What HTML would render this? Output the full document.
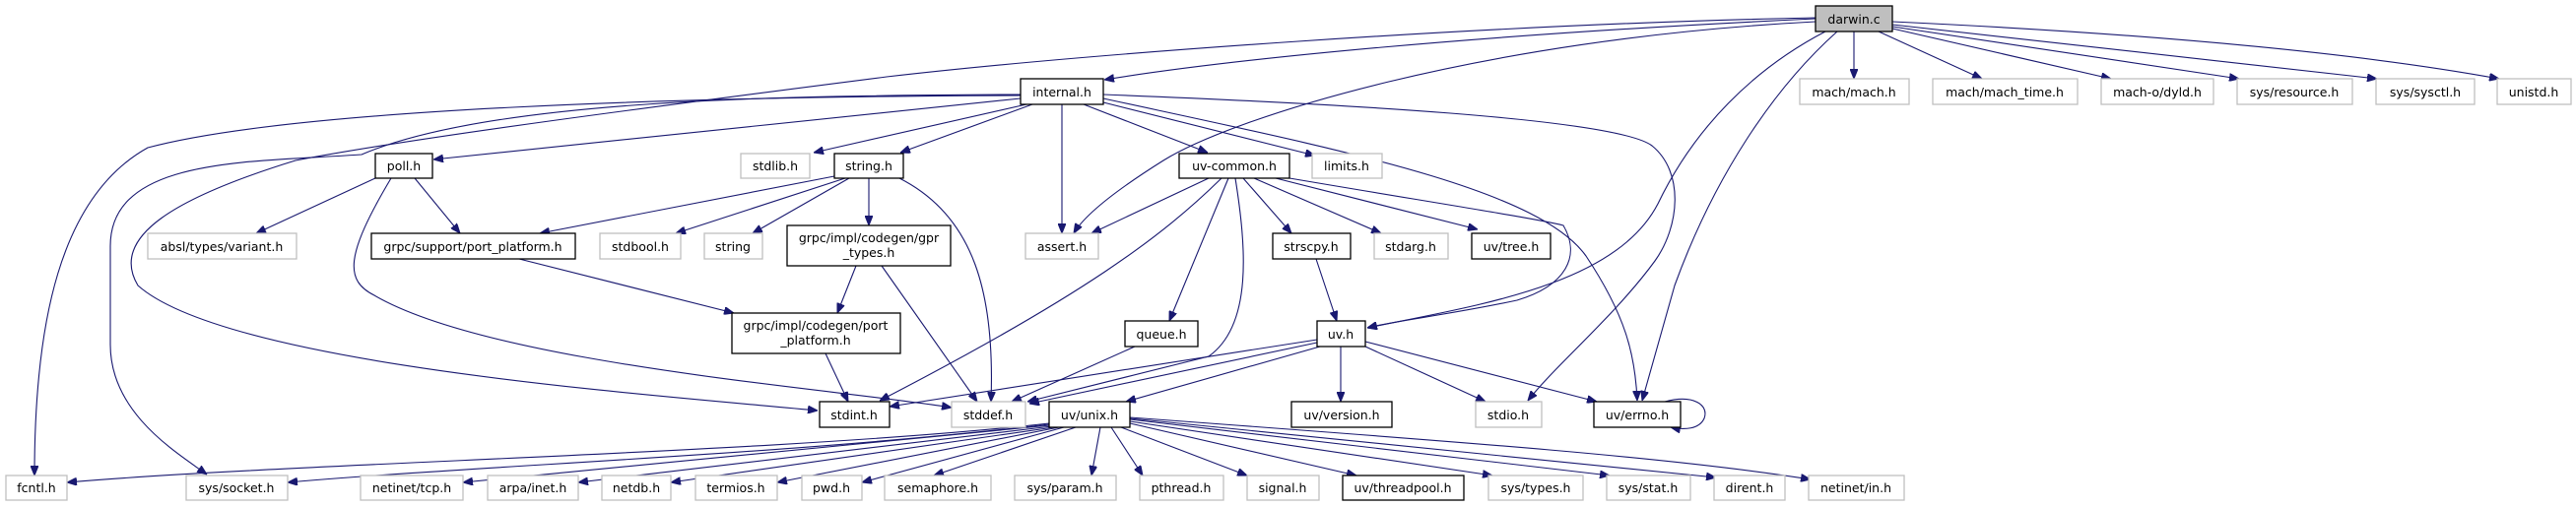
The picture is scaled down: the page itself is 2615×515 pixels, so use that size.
<!DOCTYPE html>
<html><head><meta charset="utf-8"><style>
html,body{margin:0;padding:0;background:#fff;}
svg{display:block;}
text{font-family:"DejaVu Sans","Liberation Sans",sans-serif;font-size:12.5px;fill:#000;text-anchor:middle;}
.g{fill:#fff;stroke:#bfbfbf;stroke-width:1.3;}
.b{fill:#fff;stroke:#000;stroke-width:1.3;}
path.e{fill:none;stroke:#191970;stroke-width:1.1;}
</style></head><body>
<svg width="2615" height="515" viewBox="0 0 2615 515" xmlns="http://www.w3.org/2000/svg">
<defs><marker id="a" markerWidth="10" markerHeight="8" refX="10" refY="4" orient="auto" markerUnits="userSpaceOnUse"><path d="M0,0 L10,4 L0,8 z" fill="#191970" stroke="#191970"/></marker></defs>
<g marker-end="url(#a)">
<!-- darwin -->
<path class="e" d="M1843,19 C1500,35 1250,60 1121,81"/>
<path class="e" d="M1843,18 C1500,25 1100,55 900,78 C650,110 420,140 300,163 C180,200 110,240 140,290 C230,370 650,400 830,417"/>
<path class="e" d="M1843,22 C1500,40 1250,120 1181,163 C1130,195 1100,220 1090,237"/>
<path class="e" d="M1853,32 C1780,70 1720,130 1683,207 C1640,290 1500,310 1388,333"/>
<path class="e" d="M1865,32 C1800,90 1740,180 1700,290 L1667,407"/>
<path class="e" d="M1882,32 L1882,80"/>
<path class="e" d="M1907,32 L2012,80"/>
<path class="e" d="M1921,29 L2143,80"/>
<path class="e" d="M1921,27 L2273,80"/>
<path class="e" d="M1921,25 L2413,80"/>
<path class="e" d="M1921,22 C2200,35 2400,55 2537,80"/>
<!-- internal -->
<path class="e" d="M1036,100 L440,162"/>
<path class="e" d="M1036,97 C700,98 300,110 150,150 C60,200 35,330 35,483"/>
<path class="e" d="M1036,96 C800,97 500,100 367,157 C250,165 112,160 112,250 L112,350 C112,420 180,460 210,482"/>
<path class="e" d="M1042,106 L826,155"/>
<path class="e" d="M1048,106 L914,155"/>
<path class="e" d="M1078,106 L1078,237"/>
<path class="e" d="M1100,106 L1226,155"/>
<path class="e" d="M1120,104 L1335,158"/>
<path class="e" d="M1120,96 C1350,105 1640,120 1677,148 C1710,175 1705,230 1680,265 C1640,320 1580,370 1551,407"/>
<path class="e" d="M1120,100 C1350,150 1560,190 1610,260 C1650,320 1660,360 1662,407"/>
<!-- poll -->
<path class="e" d="M381,181 L260,237"/>
<path class="e" d="M421,181 L467,237"/>
<path class="e" d="M397,181 C350,260 350,285 380,300 C500,370 850,395 966,414"/>
<!-- string -->
<path class="e" d="M847,179 L548,237"/>
<path class="e" d="M858,181 L686,237"/>
<path class="e" d="M862,181 L764,237"/>
<path class="e" d="M882,181 L882,229"/>
<path class="e" d="M913,181 C990,220 1010,300 1006,408"/>
<path class="e" d="M527,263 L745,318"/>
<path class="e" d="M869,270 L850,318"/>
<path class="e" d="M895,270 L992,408"/>
<path class="e" d="M838,359 L861,408"/>
<!-- uv-common -->
<path class="e" d="M1227,181 L1108,237"/>
<path class="e" d="M1240,181 C1180,240 1100,300 893,407"/>
<path class="e" d="M1247,181 L1187,326"/>
<path class="e" d="M1254,181 C1265,250 1272,330 1227,362 L1043,408"/>
<path class="e" d="M1262,181 L1311,237"/>
<path class="e" d="M1273,181 L1402,237"/>
<path class="e" d="M1295,181 L1500,233"/>
<path class="e" d="M1309,181 C1450,205 1560,222 1587,229 C1605,260 1590,290 1540,305 C1470,320 1420,325 1388,333"/>
<path class="e" d="M1336,263 L1357,326"/>
<path class="e" d="M1152,352 L1027,408"/>
<!-- uv.h -->
<path class="e" d="M1337,345 L903,413"/>
<path class="e" d="M1337,348 L1045,410"/>
<path class="e" d="M1340,352 L1143,408"/>
<path class="e" d="M1361,352 L1361,408"/>
<path class="e" d="M1386,352 L1508,408"/>
<path class="e" d="M1386,347 L1621,408"/>
<path class="e" d="M1690,408 C1720,400 1735,412 1730,425 C1725,436 1710,437 1696,434"/>
<!-- unix -->
<path class="e" d="M1065,430 C800,460 300,470 68,490"/>
<path class="e" d="M1065,431 C800,462 500,472 292,490"/>
<path class="e" d="M1066,432 L470,490"/>
<path class="e" d="M1068,433 L587,490"/>
<path class="e" d="M1070,434 L681,490"/>
<path class="e" d="M1075,434 L789,490"/>
<path class="e" d="M1080,434 L875,490"/>
<path class="e" d="M1092,434 L948,483"/>
<path class="e" d="M1117,434 L1108,483"/>
<path class="e" d="M1128,434 L1160,483"/>
<path class="e" d="M1138,434 L1266,483"/>
<path class="e" d="M1147,430 L1377,483"/>
<path class="e" d="M1147,428 L1515,483"/>
<path class="e" d="M1147,426 L1634,483"/>
<path class="e" d="M1147,425 L1742,485"/>
<path class="e" d="M1147,424 C1500,450 1700,465 1838,487"/>
</g>
<!-- nodes -->
<rect x="1843" y="6" width="78" height="26" fill="#bfbfbf" stroke="#000" stroke-width="1.3"/><text x="1882" y="24">darwin.c</text>
<rect class="g" x="1827" y="80" width="111" height="26"/><text x="1882" y="98">mach/mach.h</text>
<rect class="g" x="1962" y="80" width="147" height="26"/><text x="2035" y="98">mach/mach_time.h</text>
<rect class="g" x="2133" y="80" width="114" height="26"/><text x="2190" y="98">mach-o/dyld.h</text>
<rect class="g" x="2271" y="80" width="117" height="26"/><text x="2329" y="98">sys/resource.h</text>
<rect class="g" x="2412" y="80" width="100" height="26"/><text x="2462" y="98">sys/sysctl.h</text>
<rect class="g" x="2535" y="80" width="75" height="26"/><text x="2572" y="98">unistd.h</text>
<rect class="b" x="1036" y="80" width="84" height="26"/><text x="1078" y="98">internal.h</text>
<rect class="b" x="381" y="156" width="58" height="25"/><text x="410" y="173">poll.h</text>
<rect class="g" x="752" y="156" width="70" height="25"/><text x="787" y="173">stdlib.h</text>
<rect class="b" x="847" y="156" width="70" height="25"/><text x="882" y="173">string.h</text>
<rect class="b" x="1197" y="156" width="112" height="25"/><text x="1253" y="173">uv-common.h</text>
<rect class="g" x="1332" y="156" width="71" height="25"/><text x="1367" y="173">limits.h</text>
<rect class="g" x="150" y="237" width="151" height="26"/><text x="225" y="255">absl/types/variant.h</text>
<rect class="b" x="377" y="237" width="207" height="26"/><text x="480" y="255">grpc/support/port_platform.h</text>
<rect class="g" x="609" y="237" width="82" height="26"/><text x="650" y="255">stdbool.h</text>
<rect class="g" x="715" y="237" width="59" height="26"/><text x="744" y="255">string</text>
<rect class="b" x="799" y="229" width="166" height="41"/><text x="882" y="246">grpc/impl/codegen/gpr</text><text x="882" y="261">_types.h</text>
<rect class="g" x="1041" y="237" width="74" height="26"/><text x="1078" y="255">assert.h</text>
<rect class="b" x="1292" y="237" width="79" height="26"/><text x="1331" y="255">strscpy.h</text>
<rect class="g" x="1395" y="237" width="75" height="26"/><text x="1432" y="255">stdarg.h</text>
<rect class="b" x="1494" y="237" width="80" height="26"/><text x="1534" y="255">uv/tree.h</text>
<rect class="b" x="743" y="318" width="171" height="41"/><text x="828" y="335">grpc/impl/codegen/port</text><text x="828" y="350">_platform.h</text>
<rect class="b" x="1142" y="326" width="74" height="26"/><text x="1179" y="344">queue.h</text>
<rect class="b" x="1337" y="326" width="49" height="26"/><text x="1361" y="344">uv.h</text>
<rect class="b" x="832" y="408" width="71" height="26"/><text x="867" y="426">stdint.h</text>
<rect class="g" x="966" y="408" width="75" height="26"/><text x="1003" y="426">stddef.h</text>
<rect class="b" x="1065" y="408" width="82" height="26"/><text x="1106" y="426">uv/unix.h</text>
<rect class="b" x="1311" y="408" width="102" height="26"/><text x="1362" y="426">uv/version.h</text>
<rect class="g" x="1498" y="408" width="67" height="26"/><text x="1531" y="426">stdio.h</text>
<rect class="b" x="1618" y="408" width="88" height="26"/><text x="1662" y="426">uv/errno.h</text>
<rect class="g" x="6" y="483" width="62" height="25"/><text x="37" y="500">fcntl.h</text>
<rect class="g" x="189" y="483" width="103" height="25"/><text x="240" y="500">sys/socket.h</text>
<rect class="g" x="366" y="483" width="104" height="25"/><text x="418" y="500">netinet/tcp.h</text>
<rect class="g" x="495" y="483" width="92" height="25"/><text x="541" y="500">arpa/inet.h</text>
<rect class="g" x="611" y="483" width="70" height="25"/><text x="646" y="500">netdb.h</text>
<rect class="g" x="706" y="483" width="83" height="25"/><text x="747" y="500">termios.h</text>
<rect class="g" x="814" y="483" width="61" height="25"/><text x="844" y="500">pwd.h</text>
<rect class="g" x="898" y="483" width="108" height="25"/><text x="952" y="500">semaphore.h</text>
<rect class="g" x="1030" y="483" width="103" height="25"/><text x="1081" y="500">sys/param.h</text>
<rect class="g" x="1157" y="483" width="85" height="25"/><text x="1199" y="500">pthread.h</text>
<rect class="g" x="1266" y="483" width="73" height="25"/><text x="1302" y="500">signal.h</text>
<rect class="b" x="1363" y="483" width="123" height="25"/><text x="1424" y="500">uv/threadpool.h</text>
<rect class="g" x="1511" y="483" width="96" height="25"/><text x="1559" y="500">sys/types.h</text>
<rect class="g" x="1631" y="483" width="85" height="25"/><text x="1673" y="500">sys/stat.h</text>
<rect class="g" x="1740" y="483" width="72" height="25"/><text x="1776" y="500">dirent.h</text>
<rect class="g" x="1836" y="483" width="97" height="25"/><text x="1884" y="500">netinet/in.h</text>
</svg>
</body></html>
